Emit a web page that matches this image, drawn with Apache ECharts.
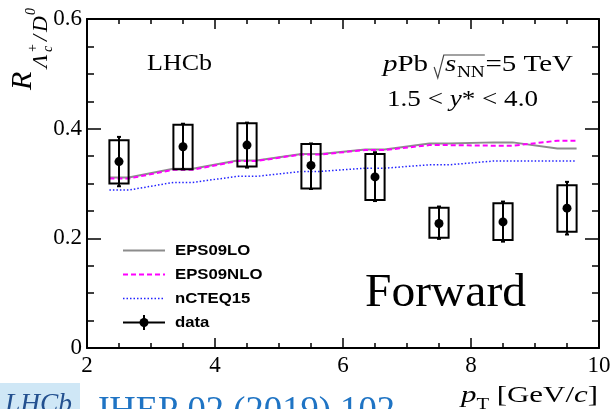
<!DOCTYPE html>
<html>
<head>
<meta charset="utf-8">
<script src="https://cdn.jsdelivr.net/npm/echarts@6/dist/echarts.min.js"></script>
<style>
  html, body { margin: 0; padding: 0; background: #fff; }
  #chart { width: 610px; height: 409px; }
</style>
</head>
<body>
<div id="chart"></div>
<script>
// Lambda_c+/D0 ratio vs pT, forward rapidity, pPb at 5 TeV
const binCenters = [2.5, 3.5, 4.5, 5.5, 6.5, 7.5, 8.5, 9.5];
const ratio      = [0.340, 0.367, 0.370, 0.333, 0.312, 0.227, 0.230, 0.255];
const statLow    = [0.295, 0.326, 0.329, 0.290, 0.268, 0.199, 0.194, 0.207];
const statHigh   = [0.385, 0.409, 0.411, 0.373, 0.357, 0.258, 0.267, 0.303];
const systLow    = [0.300, 0.326, 0.331, 0.291, 0.270, 0.201, 0.197, 0.212];
const systHigh   = [0.379, 0.407, 0.410, 0.372, 0.354, 0.256, 0.264, 0.297];
// model predictions per bin
const eps09lo    = [0.311, 0.327, 0.342, 0.354, 0.362, 0.373, 0.375, 0.364];
const eps09nlo   = [0.309, 0.325, 0.341, 0.353, 0.361, 0.370, 0.369, 0.378];
const ncteq15    = [0.288, 0.302, 0.313, 0.322, 0.328, 0.334, 0.341, 0.341];
const binHalfWidth = 0.15;
const xTickLabels = ['2', '4', '6', '8', '10'];
const yTickLabels = ['0', '0.2', '0.4', '0.6'];

// each model point is drawn across its bin width, then joined to the next
function modelLine(values) {
  const pts = [];
  binCenters.forEach((c, i) => {
    pts.push([c - binHalfWidth, values[i]]);
    pts.push([c + binHalfWidth, values[i]]);
  });
  return pts;
}

const measureCtx = document.createElement('canvas').getContext('2d');
function fontOf(p) {
  return (p.italic ? 'italic' : 'normal') + ' ' + (p.bold ? 'bold' : 'normal') + ' ' +
         p.size + 'px "' + (p.family || 'Liberation Serif') + '"';
}
function textWidth(p) {
  measureCtx.font = fontOf(p);
  return measureCtx.measureText(p.t).width;
}
// a text piece positioned by its baseline
function glyph(x, baseline, p) {
  return {
    type: 'text', x: x, y: baseline - 0.34 * p.size,
    style: {
      text: p.t, fill: p.fill || '#000', fontSize: p.size,
      fontFamily: p.family || 'Liberation Serif',
      fontStyle: p.italic ? 'italic' : 'normal',
      fontWeight: p.bold ? 'bold' : 'normal',
      align: 'left', verticalAlign: 'middle', lineHeight: p.size
    }
  };
}
// lays pieces out left to right; the run is stretched to the requested width
function textRun(x, baseline, pieces, width, extra) {
  let cx = 0;
  const children = [];
  const marks = [];
  pieces.forEach(p => {
    const start = cx;
    cx += p.dx || 0;
    marks.push({ start: start, x: cx });
    if (p.t) {
      children.push(glyph(cx, p.dy || 0, p));
      cx += textWidth(p);
    }
  });
  marks.push({ start: cx, x: cx });
  if (extra) extra(children, marks);
  return { type: 'group', x: x, y: baseline, scaleX: width ? width / cx : 1, children: children };
}

const serif = (t, size, more) => Object.assign({ t: t, size: size }, more || {});

const graphics = [];

// experiment label
graphics.push(textRun(147, 72, [serif('LHCb', 24)], 65));

// collision system with square-root sign
graphics.push(textRun(383, 73, [
  serif('p', 24, { italic: true }),
  serif('Pb ', 24),
  serif('s', 24, { italic: true, dx: 8 }),
  serif('NN', 16, { dy: 5, dx: 0.5 }),
  serif('=5 TeV', 24, { dx: 0.5 })
], 190, (children, marks) => {
  const xs = marks[2].start;   // radical sits in the gap before "s"
  const xe = marks[4].start;   // overline runs to the end of "NN"
  children.push({
    type: 'polyline',
    shape: { points: [[xs - 1, -6], [xs + 2, 5], [xs + 7, -18], [xe, -18]] },
    style: { stroke: '#444', lineWidth: 1, fill: null }
  });
}));

graphics.push(textRun(387, 108, [
  serif('1.5 < ', 23),
  serif('y', 23, { italic: true }),
  serif('* < 4.0', 23)
], 151));

graphics.push(textRun(365, 310, [serif('Forward', 47)], 161));

// x axis title
graphics.push(textRun(461, 404, [
  serif('p', 24, { italic: true }),
  serif('T', 16, { dy: 6 }),
  serif(' [GeV/', 24),
  serif('c', 24, { italic: true }),
  serif(']', 24)
], 137));

// y axis title, reading upward
graphics.push({
  type: 'group', x: 33, y: 90, rotation: Math.PI / 2,
  children: [
    glyph(0, 0, serif('R', 30, { italic: true })),
    glyph(22, 16, serif('\u039B', 22, { italic: true })),
    glyph(38, 20, serif('c', 14, { italic: true })),
    glyph(38, 5, serif('+', 14)),
    glyph(49, 16, serif('/', 22, { italic: true })),
    glyph(58, 16, serif('D', 22, { italic: true })),
    glyph(75, 3, serif('0', 14, { italic: true }))
  ]
});

// legend
const legendRows = [
  { name: 'EPS09LO',  y: 250.5, stroke: '#8c8c8c', width: 2,   dash: null },
  { name: 'EPS09NLO', y: 274.5, stroke: '#ff00ff', width: 2,   dash: [5, 3] },
  { name: 'nCTEQ15',  y: 298.5, stroke: '#2222ff', width: 1.5, dash: [1.5, 2] },
  { name: 'data',     y: 322.5, stroke: '#000',    width: 2,   dash: null }
];
legendRows.forEach(r => {
  graphics.push({
    type: 'line', shape: { x1: 123, y1: r.y, x2: 165, y2: r.y },
    style: { stroke: r.stroke, lineWidth: r.width, lineDash: r.dash }
  });
  const p = { t: r.name, size: 15.5, bold: true, family: 'Liberation Sans' };
  graphics.push(textRun(175, r.y + 5.5, [p], textWidth(p) * 1.08));
});
graphics.push({ type: 'line', shape: { x1: 144, y1: 315, x2: 144, y2: 330 }, style: { stroke: '#000', lineWidth: 2 } });
graphics.push({ type: 'circle', shape: { cx: 144, cy: 322.5, r: 4.5 }, style: { fill: '#000' } });

// publication reference
graphics.push({ type: 'rect', shape: { x: 0, y: 383, width: 80, height: 30 }, style: { fill: '#cfe7f6' } });
graphics.push(textRun(5, 414, [serif('LHCb', 27, { italic: true, fill: '#23508f' })], 67));
graphics.push(textRun(95, 424, [serif('JHEP 02 (2019) 102', 36, { fill: '#1f74c4' })], 300));

const chart = echarts.init(document.getElementById('chart'), null, { renderer: 'canvas' });

const axisLine = { show: true, onZero: false, lineStyle: { color: '#000', width: 2 } };
const tickStyle = { color: '#000', width: 1.5 };
const labelStyle = { fontFamily: 'Liberation Serif', fontSize: 23, color: '#000' };

function xAxisDef(pos, labels) {
  return {
    type: 'value', position: pos, min: 2, max: 10, interval: 2,
    axisLine: axisLine, splitLine: { show: false },
    axisTick: { show: true, inside: true, length: 10, lineStyle: tickStyle },
    minorTick: { show: true, splitNumber: 4, length: 5, lineStyle: tickStyle },
    axisLabel: Object.assign({
      show: labels, margin: 6, showMinLabel: true, showMaxLabel: true,
      formatter: v => xTickLabels[Math.round((v - 2) / 2)]
    }, labelStyle)
  };
}
function yAxisDef(pos, labels) {
  return {
    type: 'value', position: pos, min: 0, max: 0.6, interval: 0.2,
    axisLine: axisLine, splitLine: { show: false },
    axisTick: { show: true, inside: true, length: 14, lineStyle: tickStyle },
    minorTick: { show: true, splitNumber: 4, length: 7, lineStyle: tickStyle },
    axisLabel: Object.assign({
      show: labels, margin: 5, showMinLabel: true, showMaxLabel: true,
      formatter: v => yTickLabels[Math.round(v / 0.2)]
    }, labelStyle)
  };
}

chart.setOption({
  animation: false,
  backgroundColor: '#fff',
  grid: { left: 87, right: 11, top: 19, bottom: 61, containLabel: false, outerBoundsMode: 'none' },
  xAxis: [xAxisDef('bottom', true), xAxisDef('top', false)],
  yAxis: [yAxisDef('left', true), yAxisDef('right', false)],
  series: [
    {
      name: 'EPS09LO', type: 'line', data: modelLine(eps09lo), showSymbol: false, silent: true,
      lineStyle: { color: '#8c8c8c', width: 2 }, z: 3
    },
    {
      name: 'EPS09NLO', type: 'line', data: modelLine(eps09nlo), showSymbol: false, silent: true,
      lineStyle: { color: '#ff00ff', width: 2, type: [5, 3] }, z: 4
    },
    {
      name: 'nCTEQ15', type: 'line', data: modelLine(ncteq15), showSymbol: false, silent: true,
      lineStyle: { color: '#2222ff', width: 1.5, type: [1.5, 2] }, z: 4
    },
    {
      name: 'data', type: 'custom', z: 5, silent: true,
      data: binCenters.map((c, i) => [c, ratio[i], statLow[i], statHigh[i], systLow[i], systHigh[i]]),
      encode: { x: 0, y: 1 },
      renderItem: function (params, api) {
        const x = api.value(0);
        const tl = api.coord([x - binHalfWidth, api.value(5)]);
        const br = api.coord([x + binHalfWidth, api.value(4)]);
        const c = api.coord([x, api.value(1)]);
        const top = api.coord([x, api.value(3)]);
        const bot = api.coord([x, api.value(2)]);
        const s = { stroke: '#000', lineWidth: 2, fill: null };
        return {
          type: 'group',
          children: [
            { type: 'rect', shape: { x: tl[0], y: tl[1], width: br[0] - tl[0], height: br[1] - tl[1] }, style: s },
            { type: 'line', shape: { x1: c[0], y1: top[1], x2: c[0], y2: bot[1] }, style: s },
            { type: 'line', shape: { x1: c[0] - 2, y1: top[1], x2: c[0] + 2, y2: top[1] }, style: s },
            { type: 'line', shape: { x1: c[0] - 2, y1: bot[1], x2: c[0] + 2, y2: bot[1] }, style: s },
            { type: 'circle', shape: { cx: c[0], cy: c[1], r: 4.5 }, style: { fill: '#000' } }
          ]
        };
      }
    }
  ],
  graphic: graphics
});
</script>
</body>
</html>
